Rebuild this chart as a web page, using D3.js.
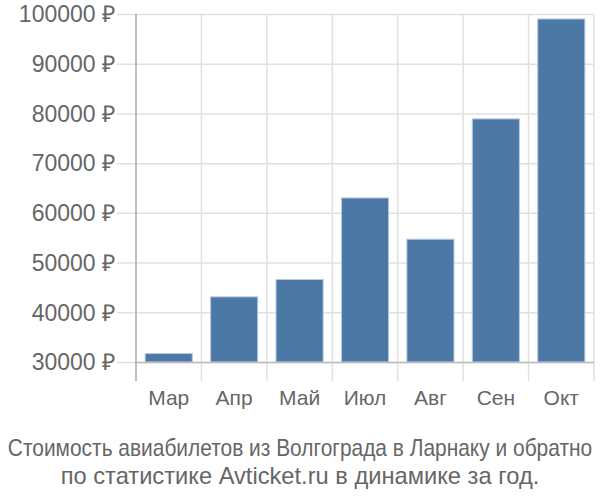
<!DOCTYPE html>
<html><head><meta charset="utf-8">
<script src="https://cdn.jsdelivr.net/npm/d3@7"></script>
<style>body{margin:0;background:#fff}</style>
</head><body>
<svg id="c" width="600" height="500"></svg>
<script>
const months = ["Мар","Апр","Май","Июл","Авг","Сен","Окт"];
const prices = [31700,43100,46600,63000,54700,78900,99000];
const yTicks = [30000,40000,50000,60000,70000,80000,90000,100000];
const titleLines = ["Стоимость авиабилетов из Волгограда в Ларнаку и обратно","по статистике Avticket.ru в динамике за год."];

(function(){
const svg = d3.select("#c");
const pLeft = 136, pRight = 594, pTop = 14, pBase = 362, pBottom = 381;
const x = d3.scaleBand().domain(months).range([pLeft, pRight]).paddingInner(0.28).paddingOuter(0.14);
const y = d3.scaleLinear().domain([30000,100000]).range([pBase, pTop]);
const grid = "#e0e0e0";

svg.append("g").selectAll("line").data(yTicks).join("line")
  .attr("x1", 117).attr("x2", pRight).attr("y1", d=>y(d)+0.5).attr("y2", d=>y(d)+0.5)
  .attr("stroke", grid).attr("stroke-width", 1.5);
const edges = months.map(m => x(m) - x.step()*x.paddingInner()/2).concat([pRight]);
svg.append("g").selectAll("line").data(edges.slice(1)).join("line")
  .attr("x1", d=>d).attr("x2", d=>d).attr("y1", pTop).attr("y2", pBottom)
  .attr("stroke", grid).attr("stroke-width", 1.5);

svg.append("g").selectAll("rect").data(prices).join("rect")
  .attr("x", (d,i)=>x(months[i])).attr("width", x.bandwidth())
  .attr("y", d=>y(d)).attr("height", d=>pBase - y(d))
  .attr("fill", "#4c78a6").attr("stroke", "#b5c9e2").attr("stroke-width", 1);

svg.append("line").attr("x1", pLeft).attr("x2", pRight).attr("y1", pBase+0.5).attr("y2", pBase+0.5)
  .attr("stroke", "#bbb").attr("stroke-width", 1.5);
svg.append("line").attr("x1", pLeft).attr("x2", pLeft).attr("y1", pTop).attr("y2", pBottom)
  .attr("stroke", "#aaa").attr("stroke-width", 1.5);

svg.append("g").selectAll("text").data(yTicks).join("text")
  .attr("x", 115).attr("y", d=>y(d)).attr("dy", "0.36em").attr("text-anchor", "end")
  .attr("font-family", "Liberation Sans, Arial, sans-serif").attr("font-size", 23).attr("fill", "#666")
  .text(d => d + " ₽");
svg.append("g").selectAll("text").data(months).join("text")
  .attr("x", d=>x(d)+x.bandwidth()/2).attr("y", 405).attr("text-anchor", "middle")
  .attr("font-family", "Liberation Sans, Arial, sans-serif").attr("font-size", 21).attr("fill", "#666")
  .text(d=>d);
const sx = [0.91, 1.03];
svg.append("g").selectAll("text").data(titleLines).join("text")
  .attr("transform", (d,i)=>`translate(300,${456 + i*28}) scale(${sx[i]},1)`)
  .attr("text-anchor", "middle")
  .attr("font-family", "Liberation Sans, Arial, sans-serif").attr("font-size", 23).attr("fill", "#666")
  .text(d=>d);
})();
</script>
</body></html>
